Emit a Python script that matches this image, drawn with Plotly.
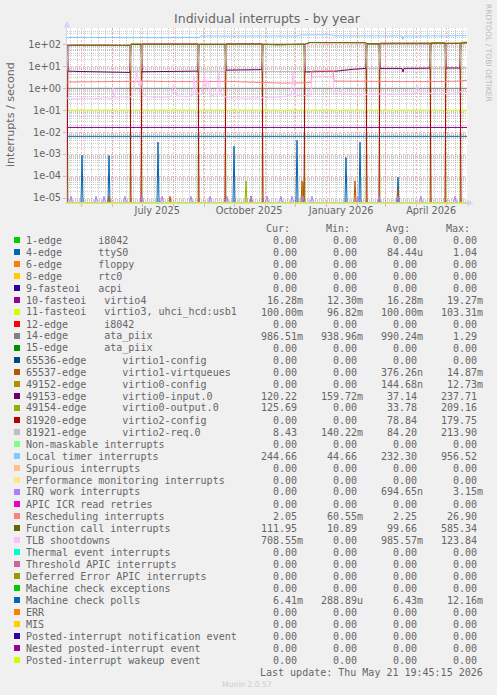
import math
import pandas as pd
import plotly.graph_objects as go

# ---------------- data ----------------
START = pd.Timestamp("2025-04-16 19:45:15")
END = pd.Timestamp("2026-05-21 19:45:15")

LABELS = [
    "1-edge      i8042", "4-edge      ttyS0", "6-edge      floppy", "8-edge      rtc0",
    "9-fasteoi   acpi", "10-fasteoi   virtio4", "11-fasteoi   virtio3, uhci_hcd:usb1",
    "12-edge      i8042", "14-edge      ata_piix", "15-edge      ata_piix",
    "65536-edge      virtio1-config", "65537-edge      virtio1-virtqueues",
    "49152-edge      virtio0-config", "49153-edge      virtio0-input.0",
    "49154-edge      virtio0-output.0", "81920-edge      virtio2-config",
    "81921-edge      virtio2-req.0", "Non-maskable interrupts", "Local timer interrupts",
    "Spurious interrupts", "Performance monitoring interrupts", "IRQ work interrupts",
    "APIC ICR read retries", "Rescheduling interrupts", "Function call interrupts",
    "TLB shootdowns", "Thermal event interrupts", "Threshold APIC interrupts",
    "Deferred Error APIC interrupts", "Machine check exceptions", "Machine check polls",
    "ERR", "MIS", "Posted-interrupt notification event", "Nested posted-interrupt event",
    "Posted-interrupt wakeup event",
]
COLORS = [
    "#00CC00", "#0066B3", "#FF8000", "#FFCC00", "#330099", "#990099", "#CCFF00",
    "#FF0000", "#808080", "#008F00", "#00487D", "#B35A00", "#B38F00", "#6B006B",
    "#8FB300", "#B30000", "#BEBEBE", "#80FF80", "#80C9FF", "#FFC080", "#FFE680",
    "#AA80FF", "#EE00CC", "#FF8080", "#666600", "#FFBFFF", "#00FFCC", "#CC6699",
    "#999900", "#00CC00", "#0066B3", "#FF8000", "#FFCC00", "#330099", "#990099",
    "#CCFF00",
]
CUR = [0, 0, 0, 0, 0, 16.28e-3, 100.00e-3, 0, 986.51e-3, 0, 0, 0, 0, 120.22, 125.69, 0, 8.43,
       0, 244.66, 0, 0, 0, 0, 2.05, 111.95, 708.55e-3, 0, 0, 0, 0, 6.41e-3, 0, 0, 0, 0, 0]
MIN = [0, 0, 0, 0, 0, 12.30e-3, 96.82e-3, 0, 938.96e-3, 0, 0, 0, 0, 159.72e-3, 0, 0, 140.22e-3,
       0, 44.66, 0, 0, 0, 0, 60.55e-3, 10.89, 0, 0, 0, 0, 0, 288.89e-6, 0, 0, 0, 0, 0]
AVG = [0, 84.44e-6, 0, 0, 0, 16.28e-3, 100.00e-3, 0, 990.24e-3, 0, 0, 376.26e-9, 144.68e-9,
       37.14, 33.78, 78.84, 84.20, 0, 232.30, 0, 0, 694.65e-9, 0, 2.25, 99.66, 985.57e-3,
       0, 0, 0, 0, 6.43e-3, 0, 0, 0, 0, 0]
MAX = [0, 1.04, 0, 0, 0, 19.27e-3, 103.31e-3, 0, 1.29, 0, 0, 14.87e-3, 12.73e-3, 237.71,
       209.16, 179.75, 213.90, 0, 956.52, 0, 0, 3.15e-3, 0, 26.90, 585.34, 123.84,
       0, 0, 0, 0, 12.16e-3, 0, 0, 0, 0, 0]

# day offsets from START for the high-level (virtio / function call) series
DAYS = [0, 1, 10, 25, 40, 55, 63, 64, 70, 74, 75, 90, 110, 131, 132, 145, 158,
        159, 175, 178, 179, 180, 195, 196, 210, 225, 237, 238, 243, 255, 270, 285, 299,
        300, 306, 312, 313, 325, 335, 336, 337, 350, 363, 364, 372, 378, 379, 386, 393,
        394, 400]
CAL = [90, 90, 92, 88, 91, 89, 90, 100, 98, 100, 100, 99, 101, 100, 100, 98, 100,
       100, 101, 100, 100, 100, 100, 100, 95, 98, 100, 102, 120, 118, 117, 118, 118,
       105, 103, 104, 104, 106, 104, 104, 105, 104, 106, 110, 108, 110, 110, 109, 111,
       112, 112]
V81920 = [0, 90, 92, 88, 91, 89, 90, 0, 0, 0, 104, 104, 105, 104, 0, 0, 0,
          105, 106, 105, 105, 105, 105, 0, 0, 0, 0, 102, 120, 118, 117, 118, 118,
          0, 0, 0, 112, 113, 112, 112, 112, 113, 113, 0, 0, 0, 110, 109, 111,
          0, 0]
V49154 = [90, 0, 0, 0, 0, 0, 0, 104, 103, 104, 0, 0, 0, 0, 100, 98, 100,
          0, 0, 0, 6e-5, 0, 0, 100, 95, 98, 100, 0, 0, 0, 0, 0, 0,
          105, 103, 104, 0, 0, 0, 0, 0, 0, 0, 118, 117, 118, 0, 0, 0,
          122, 125.69]
V49153 = [90, 6.0, 5.8, 5.5, 5.4, 5.3, 5.2, 100, 98, 100, 5.6, 5.8, 5.7, 6.0, 100, 98, 100,
          6.6, 6.9, 6.9, 6.9, 6.9, 7.0, 100, 95, 98, 100, 5.5, 5.6, 5.6, 6.0, 7.2, 8.0,
          105, 103, 104, 8.0, 8.1, 8.0, 5.4, 8.0, 8.1, 8.2, 118, 117, 118, 8.3, 8.2, 8.3,
          120, 120.22]
V81921 = [6.0, 90, 92, 88, 91, 89, 90, 6.0, 6.2, 6.0, 100, 99, 101, 100, 6.0, 6.1, 5.9,
          100, 101, 100, 100, 100, 100, 5.8, 5.6, 5.7, 5.9, 102, 120, 118, 117, 118, 118,
          8.0, 8.1, 8.0, 104, 106, 104, 104, 105, 104, 106, 8.1, 8.0, 8.2, 110, 109, 111,
          8.4, 8.43]

LOC_DAYS = [0, 30, 60, 100, 132, 134, 160, 200, 232, 234, 265, 267, 300, 335, 336, 337, 370, 400]
LOC = [205, 200, 198, 200, 205, 240, 238, 242, 240, 265, 268, 242, 240, 242, 170, 240, 242, 245]

RES_DAYS = [0, 20, 40, 60, 64, 80, 100, 120, 140, 160, 180, 196, 215, 237, 244, 245, 266,
            267, 290, 310, 330, 350, 370, 390, 400]
RES = [1.9, 2.0, 1.95, 2.05, 2.0, 2.1, 2.0, 1.95, 2.0, 2.05, 1.95, 1.75, 1.7, 1.75, 1.8,
       6.1, 6.1, 2.1, 2.0, 2.05, 2.0, 1.95, 2.0, 2.1, 2.3]

TLB_DAYS = [0, 10, 20, 30, 40, 44, 46, 48, 55, 62, 66, 68, 70, 72, 74, 76, 80, 90, 104, 106,
            108, 110, 120, 126, 127, 129, 135, 137, 139, 141, 143, 150, 152, 154, 160, 180,
            200, 215, 224, 226, 228, 235, 244, 245, 266, 267, 273, 275, 278, 290, 310, 330,
            348, 350, 353, 370, 390, 396, 400]
TLB = [0.35, 0.32, 0.36, 0.34, 0.38, 0.33, 1.0, 0.35, 0.4, 0.38, 0.5, 2.0, 5.4, 1.2, 2.2,
       0.6, 0.4, 0.38, 0.4, 1.3, 1.2, 0.45, 0.4, 0.5, 3.5, 0.6, 0.5, 5.0, 1.0, 2.5, 0.5,
       0.4, 5.4, 0.5, 0.38, 0.35, 0.37, 0.4, 0.5, 5.4, 0.5, 0.45, 0.5, 3.4, 3.4, 0.6, 0.55,
       1.0, 0.55, 0.5, 0.55, 0.52, 0.6, 1.4, 0.6, 0.55, 0.6, 0.75, 0.71]

CONST = {"10-fasteoi   virtio4": 16.28e-3, "11-fasteoi   virtio3, uhci_hcd:usb1": 100.00e-3,
         "14-edge      ata_piix": 0.99, "Machine check polls": 6.43e-3}

TTY_DAYS = [15, 42, 91, 167, 230, 279, 293, 331]
TTY = [9e-4, 8.5e-4, 3.5e-3, 2.3e-3, 4.3e-3, 7e-4, 3.5e-3, 9e-5]
V65537_DAYS = [42, 103, 184, 235, 288, 331]
V65537 = [1.2e-5, 1.2e-5, 1.2e-5, 6e-5, 6e-5, 2.5e-5]
V49152_DAYS = [236]
V49152 = [5e-5]
IRQ_DAYS = [4, 29, 37, 58, 75, 95, 124, 143, 160, 184, 200, 214, 225, 236, 245, 291, 312,
            331, 354, 388]
IRQ = [1.2e-5] * 20

MONTHS = pd.date_range("2025-05-01", "2026-05-01", freq="MS")
LABEL_DATES = ["2025-07-16", "2025-10-16", "2026-01-16", "2026-04-16"]
LABEL_TEXT = ["July 2025", "October 2025", "January 2026", "April 2026"]
YTICKS = [1e-5, 1e-4, 1e-3, 1e-2, 1e-1, 1e0, 1e1, 1e2]
YTICKTEXT = ["1e-05", "1e-04", "1e-03", "1e-02", "1e-01", "1e+00", "1e+01", "1e+02"]

# ---------------- geometry ----------------
W, H = 497, 695
ML, MR, MT, MB = 67, 30, 28, 492
PW, PH = W - ML - MR, H - MT - MB
YMIN, YMAX = -5.227, 2.741
FLOOR = 10 ** (YMIN + 0.02)

FONT = "DejaVu Sans"
MONO = "DejaVu Sans Mono"
FC = "#666666"
GRID = "rgba(143,143,143,0.45)"
MGRID = "rgba(232,82,74,0.40)"
AXIS = "#CFD6F8"


def px(x):
    return (x - ML) / PW


def py(y):
    return 1 - (y - MT) / PH


def dates(days):
    return [START + pd.Timedelta(days=float(d)) for d in days]


def clip(vals):
    return [v if v > 0 else FLOOR for v in vals]


def spikes(days, vals, w=1.0):
    xs, ys = [0], [0]
    for d, v in zip(days, vals):
        xs += [d - w, d, d + w]
        ys += [0, v, 0]
    xs.append(400)
    ys.append(0)
    return xs, ys


SERIES = {
    "49153-edge      virtio0-input.0": (DAYS, V49153),
    "49154-edge      virtio0-output.0": (DAYS, V49154),
    "81920-edge      virtio2-config": (DAYS, V81920),
    "81921-edge      virtio2-req.0": (DAYS, V81921),
    "Function call interrupts": (DAYS, CAL),
    "Local timer interrupts": (LOC_DAYS, LOC),
    "Rescheduling interrupts": (RES_DAYS, RES),
    "TLB shootdowns": (TLB_DAYS, TLB),
    "4-edge      ttyS0": spikes(TTY_DAYS, TTY),
    "65537-edge      virtio1-virtqueues": spikes(V65537_DAYS, V65537),
    "49152-edge      virtio0-config": spikes(V49152_DAYS, V49152),
    "IRQ work interrupts": spikes(IRQ_DAYS, IRQ, 1.5),
}
for k, v in CONST.items():
    SERIES[k] = ([0, 400], [v, v])

fig = go.Figure()
for i, (lab, col) in enumerate(zip(LABELS, COLORS)):
    xs, ys = SERIES.get(lab, ([0, 400], [0, 0]))
    # the last (top-most) series goes on the overlay axis that carries the month labels
    fig.add_trace(go.Scatter(x=dates(xs), y=clip(ys), mode="lines",
                             line=dict(color=col, width=1), hoverinfo="skip",
                             showlegend=False,
                             xaxis="x2" if i == len(LABELS) - 1 else "x"))


def si(v):
    if v == 0:
        return "0.00\u00a0"
    e = int(math.floor(math.log10(abs(v)) / 3)) * 3
    pref = {-9: "n", -6: "u", -3: "m", 0: "\u00a0"}[e]
    return f"{v / 10 ** e:.2f}{pref}"


ann = []
shapes = []


def text(t, x, y, anchor="left", size=10, family=MONO, color=FC, angle=0):
    ann.append(dict(text=t.replace(" ", "\u00a0"), x=px(x), y=py(y), xref="paper",
                    yref="paper", xanchor=anchor, yanchor="middle", showarrow=False,
                    textangle=angle, borderpad=0, borderwidth=0,
                    font=dict(family=family, size=size, color=color)))


# legend table
for hdr, x in zip(["Cur:", "Min:", "Avg:", "Max:"], [290, 350, 410, 470]):
    text(hdr, x, 228, "right")
for i, (lab, col) in enumerate(zip(LABELS, COLORS)):
    yc = 240 + 12 * i
    shapes.append(dict(type="rect", xref="paper", yref="paper", x0=px(14), x1=px(20),
                       y0=py(yc + 3), y1=py(yc - 3), fillcolor=col, line_width=0))
    text(lab, 26, yc)
    for x, arr in zip([303, 363, 423, 483], [CUR, MIN, AVG, MAX]):
        text(si(arr[i]), x, yc, "right")
text("Last update: Thu May 21 19:45:15 2026", 483, 672, "right")
text("Munin 2.0.57", 247, 684, "center", 7.6, FONT, "#CCCCCC")
text("RRDTOOL / TOBI OETIKER", 488, 53, "center", 7.6, FONT, "#BBBBBB", 90)
text("interrupts / second", 10, 115, "center", 11.1, FONT, FC, -90)

# axis arrows
shapes.append(dict(type="path", xref="paper", yref="paper", fillcolor=AXIS, line_width=0,
                   path=f"M {px(63.5)},{py(27.5)} L {px(70.5)},{py(27.5)} L {px(67)},{py(21)} Z"))
shapes.append(dict(type="path", xref="paper", yref="paper", fillcolor=AXIS, line_width=0,
                   path=f"M {px(467)},{py(199.5)} L {px(467)},{py(206.5)} L {px(473.5)},{py(203)} Z"))

minor_y = [k * 10 ** e for e in range(-6, 3) for k in range(2, 10)]

fig.update_layout(
    width=W, height=H, margin=dict(l=ML, r=MR, t=MT, b=MB),
    paper_bgcolor="#F0F0F0", plot_bgcolor="#FFFFFF",
    title=dict(text="Individual interrupts - by year", x=0.5, xanchor="center",
               y=1 - 19 / H, yanchor="middle", xref="paper",
               font=dict(family=FONT, size=12.5, color=FC)),
    xaxis=dict(type="date", range=[START, END], tickmode="array", tickvals=list(MONTHS),
               showticklabels=False, showgrid=True, gridcolor=MGRID, griddash="2px,2px",
               gridwidth=1, ticks="outside", ticklen=3, tickcolor=MGRID,
               showline=True, linecolor=AXIS, linewidth=1, layer="below traces",
               zeroline=False,
               minor=dict(tickmode="linear", tick0="2025-04-20", dtick=7 * 86400000,
                          showgrid=True, gridcolor=GRID, griddash="1px,1px", ticks="")),
    xaxis2=dict(type="date", range=[START, END], overlaying="x", anchor="y", side="bottom",
                tickmode="array", tickvals=LABEL_DATES, ticktext=LABEL_TEXT,
                showgrid=False, ticks="", showline=False, zeroline=False,
                tickfont=dict(family=FONT, size=9.72, color=FC)),
    yaxis=dict(type="log", range=[YMIN, YMAX], tickmode="array", tickvals=YTICKS,
               ticktext=YTICKTEXT, showgrid=True, gridcolor=MGRID, griddash="2px,2px",
               ticks="outside", ticklen=3, tickcolor=MGRID, showline=True, linecolor=AXIS,
               layer="below traces", zeroline=False,
               tickfont=dict(family=FONT, size=9.72, color=FC),
               minor=dict(tickvals=minor_y, showgrid=True, gridcolor=GRID,
                          griddash="1px,1px", ticks="")),
    annotations=ann, shapes=shapes, showlegend=False,
)
fig.write_html("out.html", config={"displayModeBar": False},
               post_script="document.body.style.margin='0';")
